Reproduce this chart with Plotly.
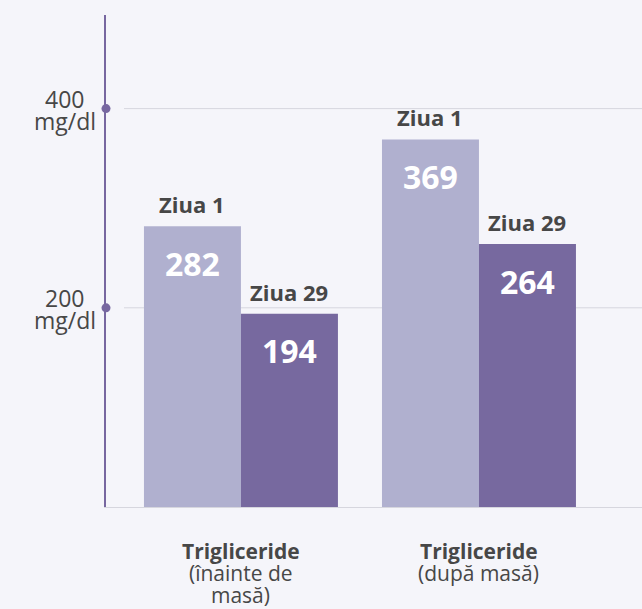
import plotly.graph_objects as go

# ---- data ----
category_lines = [["Trigliceride", "(înainte de", "masă)"], ["Trigliceride", "(după masă)"]]
series_names = ["Ziua 1", "Ziua 29"]
ziua1 = [282, 369]
ziua29 = [194, 264]
tick_values = [200, 400]
tick_unit = "mg/dl"

# ---- styles ----
BG = "#f5f5fa"
LIGHT = "#b0b0cf"
DARK = "#77699f"
AXIS = "#7767a0"
GRID = "#d6d6de"
TXT = "#474747"
FONT = "Open Sans"

x_pos = list(range(len(category_lines)))
x_range = [-0.567, 1.685]
bargap = 0.185
half = (1 - bargap) / 4  # offset of each bar centre from group centre

fig = go.Figure()
for name, vals, col in [(series_names[0], ziua1, LIGHT), (series_names[1], ziua29, DARK)]:
    fig.add_trace(go.Bar(x=x_pos, y=vals, name=name, marker=dict(color=col, line=dict(width=0)),
                         hoverinfo="skip", showlegend=False))

# axis dots
fig.add_trace(go.Scatter(x=[x_range[0]] * len(tick_values), y=tick_values, mode="markers",
                         marker=dict(size=9, color=AXIS), cliponaxis=False,
                         showlegend=False, hoverinfo="skip"))

annotations = []
shapes = []
for s, (name, vals) in enumerate([(series_names[0], ziua1), (series_names[1], ziua29)]):
    d = -half if s == 0 else half
    for i, v in zip(x_pos, vals):
        annotations.append(dict(x=i + d, y=v, xref="x", yref="y", text=f"<b>{v}</b>",
                                showarrow=False, yanchor="middle", yshift=-37,
                                font=dict(family=FONT, size=32, color="white")))
        annotations.append(dict(x=i + d, y=v, xref="x", yref="y", text=f"<b>{name}</b>",
                                showarrow=False, yanchor="bottom", yshift=5,
                                font=dict(family=FONT, size=22, color=TXT)))

for t in tick_values:
    annotations.append(dict(x=-0.0765, y=t, xref="paper", yref="y", text=str(t),
                            showarrow=False, xanchor="center", yanchor="middle", yshift=10,
                            font=dict(family=FONT, size=23, color=TXT)))
    annotations.append(dict(x=-0.0765, y=t, xref="paper", yref="y", text=tick_unit,
                            showarrow=False, xanchor="center", yanchor="middle", yshift=-12,
                            font=dict(family=FONT, size=23, color=TXT)))
    shapes.append(dict(type="line", xref="paper", yref="y", x0=0.0336, x1=1, y0=t, y1=t,
                       line=dict(color=GRID, width=1), layer="below"))

for i, lines in zip(x_pos, category_lines):
    for j, ln in enumerate(lines):
        annotations.append(dict(x=i, y=0, xref="x", yref="paper",
                                text=(f"<b>{ln}</b>" if j == 0 else ln),
                                showarrow=False, xanchor="center", yanchor="middle",
                                yshift=-(44 + 22 * j),
                                font=dict(family=FONT, size=21, color=TXT)))

fig.update_layout(
    width=642, height=609,
    margin=dict(l=106, r=0, t=15, b=102),
    paper_bgcolor=BG, plot_bgcolor=BG,
    barmode="group", bargap=bargap, bargroupgap=0,
    xaxis=dict(range=x_range, showticklabels=False, showgrid=False, zeroline=False,
               showline=True, linecolor=GRID, linewidth=1, fixedrange=True),
    yaxis=dict(range=[0, 494], showticklabels=False, showgrid=False, zeroline=False,
               showline=True, linecolor=AXIS, linewidth=2, fixedrange=True),
    annotations=annotations, shapes=shapes,
    font=dict(family=FONT, color=TXT),
)

fig.write_html("out.html", config={"displayModeBar": False},
               post_script="document.body.style.margin='0';document.body.style.background='%s';" % BG)
